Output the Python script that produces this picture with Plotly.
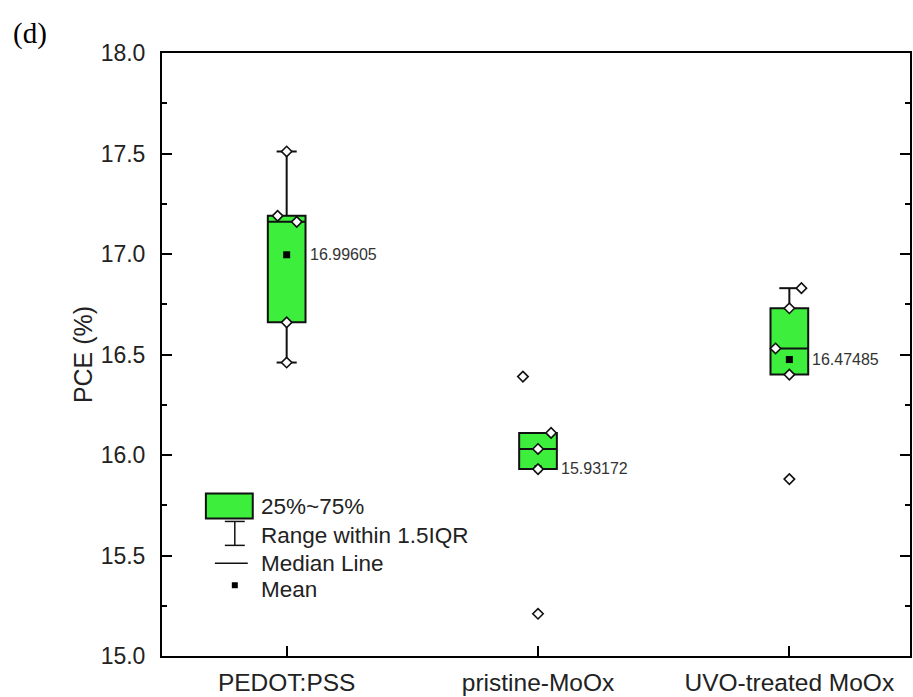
import plotly.graph_objects as go
import numpy as np

# ---------------- data ----------------
categories = ["PEDOT:PSS", "pristine-MoOx", "UVO-treated MoOx"]
pce_pedot = [17.51, 17.19, 17.16, 16.66, 16.46]
pce_pristine = [16.39, 16.11, 16.03, 15.93, 15.21]
pce_uvo = [16.83, 16.73, 16.53, 16.40, 15.88]
mean_values = [16.99605, 15.93172, 16.47485]
mean_labels = ["16.99605", "15.93172", "16.47485"]
y_ticks = [15.0, 15.5, 16.0, 16.5, 17.0, 17.5, 18.0]

# ---------------- style ----------------
series = [pce_pedot, pce_pristine, pce_uvo]
point_offsets = [[0, -0.036, 0.04, 0, 0],
                 [-0.06, 0.052, 0, 0, 0],
                 [0.048, 0, -0.055, 0, 0]]
GREEN = "#3DEE3D"
EDGE = "#111111"
FONT = "Liberation Sans, Arial, sans-serif"
BOX_W = 0.15
CAP_HALF = 0.04

W, H = 913, 697
ML, MR, MT, MB = 162, 1, 53, 39


def tukey(vals):
    s = np.sort(np.asarray(vals, dtype=float))
    n = len(s)
    med = float(np.median(s))
    lower = s[: (n + 1) // 2]
    upper = s[n // 2:]
    q1 = float(np.median(lower))
    q3 = float(np.median(upper))
    iqr = q3 - q1
    lf = float(s[s >= q1 - 1.5 * iqr - 1e-9].min())
    uf = float(s[s <= q3 + 1.5 * iqr + 1e-9].max())
    return q1, med, q3, lf, uf


fig = go.Figure()

for i, vals in enumerate(series):
    q1, med, q3, lf, uf = tukey(vals)
    fig.add_trace(go.Box(
        x=[i], q1=[q1], median=[med], q3=[q3], lowerfence=[lf], upperfence=[uf],
        width=BOX_W, fillcolor=GREEN, line=dict(color=EDGE, width=2),
        boxpoints=False, whiskerwidth=0, showlegend=False, hoverinfo="skip"))
    # whisker caps
    for fence, q in ((uf, q3), (lf, q1)):
        if abs(fence - q) > 1e-9:
            fig.add_trace(go.Scatter(
                x=[i - CAP_HALF, i + CAP_HALF], y=[fence, fence], mode="lines",
                line=dict(color=EDGE, width=2), showlegend=False, hoverinfo="skip"))

# means (drawn under the data points)
fig.add_trace(go.Scatter(
    x=list(range(len(categories))), y=mean_values, mode="markers",
    marker=dict(symbol="square", size=7, color="black"),
    showlegend=False, hoverinfo="skip"))

# data points
for i, vals in enumerate(series):
    fig.add_trace(go.Scatter(
        x=[i + o for o in point_offsets[i]], y=vals, mode="markers",
        marker=dict(symbol="diamond", size=8, color="white",
                    line=dict(color=EDGE, width=1.6)),
        showlegend=False, hoverinfo="skip"))

annotations = []
for i, (m, lab) in enumerate(zip(mean_values, mean_labels)):
    annotations.append(dict(x=i + BOX_W / 2, y=m, xref="x", yref="y", text=lab,
                            showarrow=False, xanchor="left", yanchor="middle",
                            xshift=2, font=dict(family=FONT, size=16, color="#333")))

# ---------- custom legend (pixel -> paper helpers) ----------
PW, PH = W - ML - MR, H - MT - MB


def px(x):
    return (x - ML) / PW


def py(y):
    return (H - MB - y) / PH


annotations.append(dict(x=px(11), y=py(33), xref="paper", yref="paper", text="(d)",
                        showarrow=False, xanchor="left", yanchor="middle",
                        font=dict(family="Liberation Serif, Times New Roman, serif",
                                  size=29, color="black")))

shapes = []
shapes.append(dict(type="rect", xref="paper", yref="paper",
                   x0=px(206), x1=px(253), y0=py(520), y1=py(495),
                   fillcolor=GREEN, line=dict(color=EDGE, width=2)))
# whisker symbol
shapes.append(dict(type="line", xref="paper", yref="paper",
                   x0=px(235), x1=px(235), y0=py(523), y1=py(547),
                   line=dict(color=EDGE, width=1.5)))
shapes.append(dict(type="line", xref="paper", yref="paper",
                   x0=px(225), x1=px(245), y0=py(523), y1=py(523),
                   line=dict(color=EDGE, width=1.5)))
shapes.append(dict(type="line", xref="paper", yref="paper",
                   x0=px(225), x1=px(245), y0=py(547), y1=py(547),
                   line=dict(color=EDGE, width=1.5)))
# median line
shapes.append(dict(type="line", xref="paper", yref="paper",
                   x0=px(215), x1=px(248), y0=py(565), y1=py(565),
                   line=dict(color=EDGE, width=1.5)))
# mean square
shapes.append(dict(type="rect", xref="paper", yref="paper",
                   x0=px(232), x1=px(238), y0=py(590), y1=py(584),
                   fillcolor="black", line=dict(width=0)))

legend_items = [("25%~75%", 508), ("Range within 1.5IQR", 537),
                ("Median Line", 565), ("Mean", 591)]
for txt, yy in legend_items:
    annotations.append(dict(x=px(259), y=py(yy), xref="paper", yref="paper",
                            text=txt, showarrow=False, xanchor="left",
                            yanchor="middle",
                            font=dict(family=FONT, size=22.5, color="#222")))

fig.update_layout(
    width=W, height=H,
    margin=dict(l=ML, r=MR, t=MT, b=MB, pad=0),
    paper_bgcolor="white", plot_bgcolor="white",
    font=dict(family=FONT, color="#222"),
    annotations=annotations, shapes=shapes,
    xaxis=dict(range=[-0.496, 2.48], tickmode="array",
               tickvals=list(range(len(categories))), ticktext=categories,
               ticks="inside", ticklen=10, tickwidth=2, tickcolor="black",
               showline=True, linecolor="black", linewidth=2, mirror=True,
               showgrid=False, zeroline=False,
               tickfont=dict(family=FONT, size=24.5, color="#222"),
               ticklabelstandoff=4),
    yaxis=dict(range=[15.0, 18.0], tickmode="array", tickvals=y_ticks,
               ticktext=[f"{v:.1f}" for v in y_ticks],
               ticks="inside", ticklen=10, tickwidth=2, tickcolor="black",
               minor=dict(dtick=0.25, ticks="inside", ticklen=5, tickwidth=2,
                          tickcolor="black", showgrid=False),
               showline=True, linecolor="black", linewidth=2, mirror="allticks",
               showgrid=False, zeroline=False,
               tickfont=dict(family=FONT, size=23, color="#222"),
               ticklabelstandoff=10,
               title=dict(text="PCE (%)", standoff=1,
                          font=dict(family=FONT, size=25, color="#222"))),
)

fig.write_html("out.html")
